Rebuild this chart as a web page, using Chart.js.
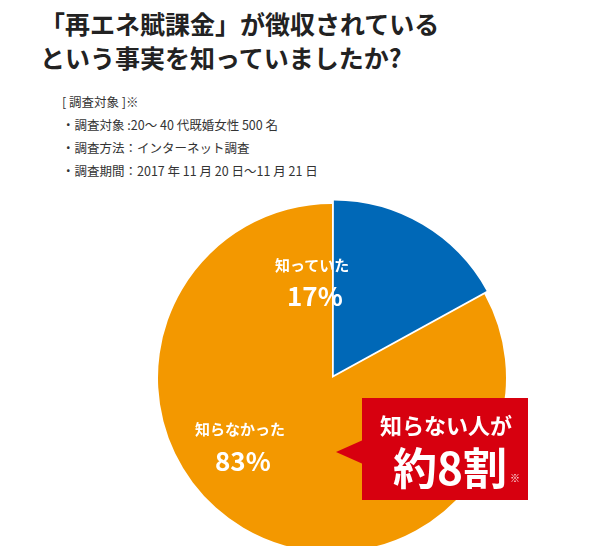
<!DOCTYPE html>
<html><head><meta charset="utf-8">
<script src="https://cdn.jsdelivr.net/npm/chart.js@4"></script>
<style>
body{margin:0;width:600px;height:546px;position:relative;background:#fff;font-family:"Noto Sans CJK JP",sans-serif;overflow:hidden}
.t{position:absolute;white-space:nowrap}
#title{left:40px;top:6px;font-size:25px;font-weight:bold;line-height:34px;color:#222}
#notes{left:62px;top:90px;font-size:12.5px;line-height:23px;color:#333}
#wrap{position:absolute;left:151px;top:197px;width:362px;height:362px}
.lbl{color:#fff;font-weight:bold;text-align:center}
#box{position:absolute;left:362px;top:398px;width:166px;height:102px;background:#d7000f}
#tri{position:absolute;left:336px;top:440px;width:0;height:0;border-top:12px solid transparent;border-bottom:12px solid transparent;border-right:27px solid #d7000f}
</style></head><body>
<div class="t" id="title">「再エネ賦課金」が徴収されている<br>という事実を知っていましたか?</div>
<div class="t" id="notes">[ 調査対象 ]※<br>・調査対象 :20～ 40 代既婚女性 500 名<br>・調査方法：インターネット調査<br>・調査期間：2017 年 11 月 20 日～11 月 21 日</div>
<div id="wrap"><canvas id="c" width="362" height="362"></canvas></div>
<div class="t lbl" style="left:275px;top:254px;font-size:15px">知っていた</div>
<div class="t lbl" style="left:287px;top:276px;font-size:26px">17%</div>
<div class="t lbl" style="left:195px;top:418px;font-size:15px">知らなかった</div>
<div class="t lbl" style="left:215px;top:441px;font-size:26px">83%</div>
<div id="tri"></div>
<div id="box"></div>
<div class="t lbl" style="left:380px;top:408px;font-size:22px">知らない人が</div>
<div class="t lbl" style="left:393px;top:438px;font-size:44px;line-height:56px">約8割</div>
<div class="t lbl" style="left:510px;top:470px;font-size:10px">※</div>
<script>
const categories = ['知っていた', '知らなかった'];
const shares = [17, 83];
const sliceColors = ['#0068b7', '#f39800'];
const sliceOffsets = [14, 0];

new Chart(document.getElementById('c'), {
  type: 'pie',
  data: {
    labels: categories,
    datasets: [{ data: shares, backgroundColor: sliceColors, borderWidth: 0, offset: sliceOffsets }]
  },
  options: {
    responsive: false, animation: false,
    layout: { padding: 0 },
    plugins: { legend: { display: false }, tooltip: { enabled: false } }
  }
});
</script>
</body></html>
